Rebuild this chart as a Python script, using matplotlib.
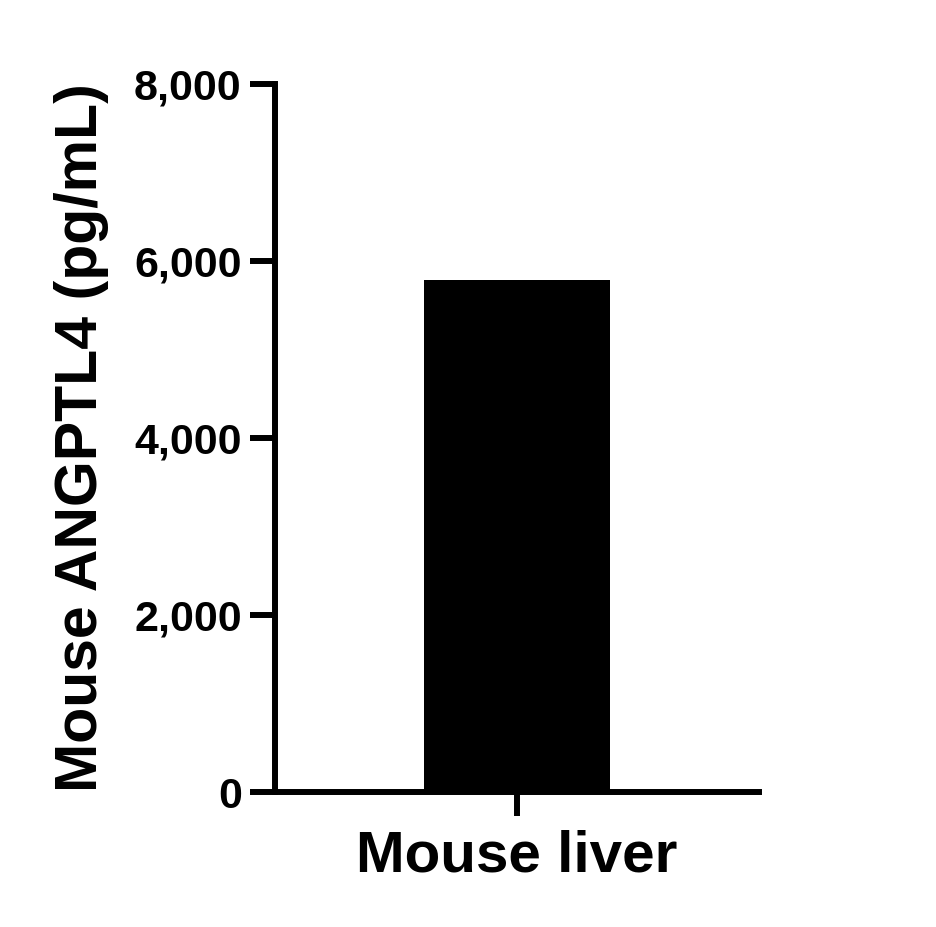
import matplotlib.pyplot as plt
from matplotlib.ticker import FuncFormatter

plt.rcParams['font.family'] = ['Liberation Sans', 'DejaVu Sans']
plt.rcParams['font.weight'] = 'bold'

categories = ['Mouse liver']
values = [5790]
yticks = [0, 2000, 4000, 6000, 8000]

fig = plt.figure(figsize=(9.37, 9.27), dpi=100)
ax = fig.add_axes([275/937, 1-792/927, 484/937, (792-84)/927])

ax.bar(range(len(categories)), values, width=0.8, color='black')
ax.set_xlim(-1.045, 1.045)
ax.set_ylim(0, 8000)
ax.set_yticks(yticks)
ax.yaxis.set_major_formatter(FuncFormatter(lambda v, p: f'{int(v):,}'))
ax.set_xticks(range(len(categories)))
ax.set_xticklabels(categories, fontsize=42, fontweight='bold')
ax.set_ylabel('Mouse ANGPTL4 (pg/mL)', fontsize=42.5, fontweight='bold', labelpad=18)

for s in ['top', 'right']:
    ax.spines[s].set_visible(False)
for s in ['left', 'bottom']:
    ax.spines[s].set_linewidth(4.3)
    ax.spines[s].set_capstyle('projecting')
ax.tick_params(axis='y', width=4.3, length=18, labelsize=31, pad=6)
ax.tick_params(axis='x', width=4.3, length=17, pad=10)
for lab in ax.get_yticklabels():
    lab.set_fontweight('bold')

fig.savefig('out.png', dpi=100)
